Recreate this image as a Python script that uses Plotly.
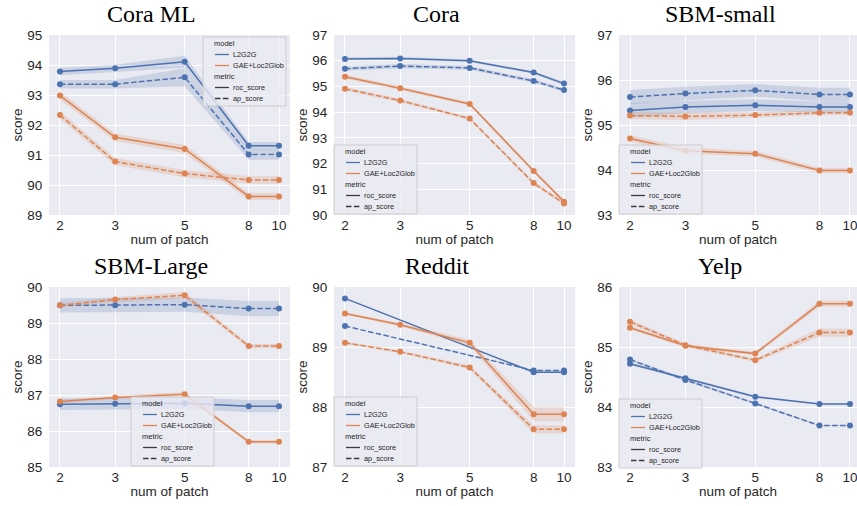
import plotly.graph_objects as go

# ---------------- data ----------------
patches = [2, 3, 5, 8, 10]
tick_labels = ["2", "3", "5", "8", "10"]
titles = ["Cora ML", "Cora", "SBM-small", "SBM-Large", "Reddit", "Yelp"]
models = ["L2G2G", "GAE+Loc2Glob"]
metrics = ["roc_score", "ap_score"]

# Cora ML
coraml_l2g2g_roc = [93.78, 93.89, 94.11, 91.31, 91.31]
coraml_l2g2g_ap = [93.36, 93.36, 93.59, 91.02, 91.02]
coraml_gae_roc = [92.98, 91.59, 91.20, 89.62, 89.62]
coraml_gae_ap = [92.33, 90.78, 90.38, 90.17, 90.17]
coraml_l2g2g_roc_ci = [0.12, 0.12, 0.20, 0.12, 0.12]
coraml_l2g2g_ap_ci = [0.14, 0.14, 0.30, 0.18, 0.18]
coraml_gae_roc_ci = [0.14, 0.12, 0.14, 0.12, 0.12]
coraml_gae_ap_ci = [0.14, 0.12, 0.12, 0.13, 0.13]

# Cora
cora_l2g2g_roc = [96.07, 96.09, 96.00, 95.54, 95.11]
cora_l2g2g_ap = [95.69, 95.79, 95.72, 95.21, 94.86]
cora_gae_roc = [95.38, 94.93, 94.32, 91.71, 90.52]
cora_gae_ap = [94.91, 94.45, 93.75, 91.24, 90.45]
cora_l2g2g_roc_ci = [0.06, 0.06, 0.05, 0.05, 0.06]
cora_l2g2g_ap_ci = [0.08, 0.08, 0.07, 0.07, 0.07]
cora_gae_roc_ci = [0.08, 0.07, 0.06, 0.07, 0.07]
cora_gae_ap_ci = [0.08, 0.07, 0.06, 0.07, 0.07]

# SBM-small
sbms_l2g2g_roc = [95.32, 95.40, 95.44, 95.40, 95.40]
sbms_l2g2g_ap = [95.62, 95.70, 95.77, 95.68, 95.68]
sbms_gae_roc = [94.70, 94.43, 94.36, 93.99, 93.99]
sbms_gae_ap = [95.21, 95.19, 95.22, 95.27, 95.27]
sbms_l2g2g_roc_ci = [0.16, 0.14, 0.13, 0.12, 0.12]
sbms_l2g2g_ap_ci = [0.16, 0.15, 0.14, 0.15, 0.15]
sbms_gae_roc_ci = [0.07, 0.07, 0.06, 0.06, 0.06]
sbms_gae_ap_ci = [0.08, 0.08, 0.06, 0.05, 0.05]

# SBM-Large
sbml_l2g2g_roc = [86.74, 86.76, 86.77, 86.69, 86.69]
sbml_l2g2g_ap = [89.49, 89.49, 89.51, 89.40, 89.40]
sbml_gae_roc = [86.82, 86.93, 87.02, 85.70, 85.70]
sbml_gae_ap = [89.49, 89.65, 89.77, 88.36, 88.36]
sbml_l2g2g_roc_ci = [0.16, 0.16, 0.16, 0.17, 0.17]
sbml_l2g2g_ap_ci = [0.20, 0.20, 0.20, 0.21, 0.21]
sbml_gae_roc_ci = [0.05, 0.05, 0.06, 0.05, 0.05]
sbml_gae_ap_ci = [0.06, 0.07, 0.09, 0.06, 0.06]

# Reddit (L2G2G has no runs at 3 and 5 patches)
reddit_l2g2g_roc = [89.81, None, None, 88.58, 88.58]
reddit_l2g2g_ap = [89.35, None, None, 88.61, 88.61]
reddit_gae_roc = [89.56, 89.37, 89.07, 87.88, 87.88]
reddit_gae_ap = [89.07, 88.92, 88.66, 87.63, 87.63]
reddit_l2g2g_roc_ci = [0.0, None, None, 0.01, 0.01]
reddit_l2g2g_ap_ci = [0.0, None, None, 0.01, 0.01]
reddit_gae_roc_ci = [0.02, 0.03, 0.05, 0.12, 0.12]
reddit_gae_ap_ci = [0.02, 0.02, 0.03, 0.07, 0.07]

# Yelp
yelp_l2g2g_roc = [84.72, 84.48, 84.17, 84.05, 84.05]
yelp_l2g2g_ap = [84.79, 84.45, 84.06, 83.69, 83.69]
yelp_gae_roc = [85.32, 85.02, 84.89, 85.72, 85.72]
yelp_gae_ap = [85.42, 85.03, 84.78, 85.24, 85.24]
yelp_l2g2g_roc_ci = [0.02, 0.02, 0.02, 0.01, 0.01]
yelp_l2g2g_ap_ci = [0.02, 0.02, 0.02, 0.01, 0.01]
yelp_gae_roc_ci = [0.03, 0.03, 0.03, 0.05, 0.05]
yelp_gae_ap_ci = [0.04, 0.03, 0.03, 0.07, 0.07]

y_ranges = [[89, 95], [90, 97], [93, 97], [85, 90], [87, 90], [83, 86]]

panels = [
    [(coraml_l2g2g_roc, coraml_l2g2g_roc_ci), (coraml_l2g2g_ap, coraml_l2g2g_ap_ci),
     (coraml_gae_roc, coraml_gae_roc_ci), (coraml_gae_ap, coraml_gae_ap_ci)],
    [(cora_l2g2g_roc, cora_l2g2g_roc_ci), (cora_l2g2g_ap, cora_l2g2g_ap_ci),
     (cora_gae_roc, cora_gae_roc_ci), (cora_gae_ap, cora_gae_ap_ci)],
    [(sbms_l2g2g_roc, sbms_l2g2g_roc_ci), (sbms_l2g2g_ap, sbms_l2g2g_ap_ci),
     (sbms_gae_roc, sbms_gae_roc_ci), (sbms_gae_ap, sbms_gae_ap_ci)],
    [(sbml_l2g2g_roc, sbml_l2g2g_roc_ci), (sbml_l2g2g_ap, sbml_l2g2g_ap_ci),
     (sbml_gae_roc, sbml_gae_roc_ci), (sbml_gae_ap, sbml_gae_ap_ci)],
    [(reddit_l2g2g_roc, reddit_l2g2g_roc_ci), (reddit_l2g2g_ap, reddit_l2g2g_ap_ci),
     (reddit_gae_roc, reddit_gae_roc_ci), (reddit_gae_ap, reddit_gae_ap_ci)],
    [(yelp_l2g2g_roc, yelp_l2g2g_roc_ci), (yelp_l2g2g_ap, yelp_l2g2g_ap_ci),
     (yelp_gae_roc, yelp_gae_roc_ci), (yelp_gae_ap, yelp_gae_ap_ci)],
]
series_style = [("L2G2G", "solid"), ("L2G2G", "dash"),
                ("GAE+Loc2Glob", "solid"), ("GAE+Loc2Glob", "dash")]

# ---------------- styling ----------------
W, H = 857, 506
BLUE = "#4C72B0"
ORANGE = "#DD8452"
BAND = {"L2G2G": "rgba(76,114,176,0.2)", "GAE+Loc2Glob": "rgba(221,132,82,0.2)"}
COLOR = {"L2G2G": BLUE, "GAE+Loc2Glob": ORANGE}
TXT = "#262626"
DASH = "5.5px,2.4px"
SANS = "Liberation Sans, Arial, sans-serif"
SERIF = "Liberation Serif, Times New Roman, serif"

col_px = [(49, 290), (334, 575), (619, 857)]
row_px = [(35, 215), (287, 467)]
x_log_ranges = [[0.266, 1.035], [0.266, 1.035], [0.266, 1.0223]]
title_cx = [151, 437, 720]
title_cy = [14, 266]
legend_boxes = [(203, 37), (334, 145), (619, 145), (131, 397), (334, 397), (619, 399)]


def px(x):
    return x / W


def py(y):
    return 1 - y / H


fig = go.Figure()
shapes = []
annotations = []

for i in range(6):
    r, c = divmod(i, 3)
    xa = "x" if i == 0 else f"x{i+1}"
    ya = "y" if i == 0 else f"y{i+1}"
    for (vals, ci), (model, dash) in zip(panels[i], series_style):
        xs = [p for p, v in zip(patches, vals) if v is not None]
        ys = [v for v in vals if v is not None]
        cis = [e for v, e in zip(vals, ci) if v is not None]
        lo = [v - e for v, e in zip(ys, cis)]
        hi = [v + e for v, e in zip(ys, cis)]
        fig.add_trace(go.Scatter(
            x=xs + xs[::-1], y=hi + lo[::-1], fill="toself", fillcolor=BAND[model],
            line=dict(width=0), mode="lines", hoverinfo="skip", showlegend=False,
            xaxis=xa, yaxis=ya))
        fig.add_trace(go.Scatter(
            x=xs, y=ys, mode="lines+markers", name=model, showlegend=False,
            line=dict(color=COLOR[model], width=1.5, dash="solid" if dash == "solid" else DASH),
            marker=dict(color=COLOR[model], size=6),
            xaxis=xa, yaxis=ya))

    x0, x1 = col_px[c]
    y0, y1 = row_px[r]
    axis_font = dict(family=SANS, size=13.5, color=TXT)
    fig.layout[f"xaxis{'' if i == 0 else i+1}"] = dict(
        domain=[px(x0), px(x1)], anchor=ya, type="log", range=x_log_ranges[c],
        tickvals=patches, ticktext=tick_labels, showgrid=True, gridcolor="white",
        gridwidth=1, zeroline=False, showline=False, ticks="", automargin=False,
        tickfont=axis_font, ticklabeloverflow="allow",
        title=dict(text="num of patch", font=axis_font, standoff=2))
    fig.layout[f"yaxis{'' if i == 0 else i+1}"] = dict(
        domain=[py(y1), py(y0)], anchor=xa, range=y_ranges[i], dtick=1,
        showgrid=True, gridcolor="white", gridwidth=1, zeroline=False, showline=False,
        ticks="outside", ticklen=3, tickcolor="rgba(0,0,0,0)", tickfont=axis_font,
        automargin=False,
        title=dict(text="score", font=axis_font, standoff=1))

    annotations.append(dict(
        text=titles[i], x=px(title_cx[c]), y=py(title_cy[r]), xref="paper", yref="paper",
        xanchor="center", yanchor="middle", showarrow=False,
        font=dict(family=SERIF, size=24, color="black")))

    # legend (drawn as a box with line samples and text)
    bl, bt = legend_boxes[i]
    shapes.append(dict(type="rect", xref="paper", yref="paper",
                       x0=px(bl), x1=px(bl + 83), y0=py(bt), y1=py(bt + 69),
                       fillcolor="rgba(234,234,242,0.8)", line=dict(color="#CCCCCC", width=1),
                       layer="above"))
    entries = [("model", None, None), (models[0], BLUE, "solid"), (models[1], ORANGE, "solid"),
               ("metric", None, None), (metrics[0], "#3a3a3a", "solid"), (metrics[1], "#3a3a3a", DASH)]
    for k, (label, col, dsh) in enumerate(entries):
        yy = bt + 6.5 + 11 * k
        if col is None:
            annotations.append(dict(text=label, x=px(bl + 9), y=py(yy), xref="paper", yref="paper",
                                    xanchor="left", yanchor="middle", showarrow=False,
                                    font=dict(family=SANS, size=7.5, color=TXT)))
        else:
            shapes.append(dict(type="line", xref="paper", yref="paper",
                               x0=px(bl + 12), x1=px(bl + 26), y0=py(yy), y1=py(yy),
                               line=dict(color=col, width=1.3, dash=dsh), layer="above"))
            annotations.append(dict(text=label, x=px(bl + 28), y=py(yy), xref="paper", yref="paper",
                                    xanchor="left", yanchor="middle", showarrow=False,
                                    font=dict(family=SANS, size=7.3, color=TXT)))

fig.update_layout(
    width=W, height=H, margin=dict(l=0, r=0, t=0, b=0, autoexpand=False),
    paper_bgcolor="white", plot_bgcolor="#EAEAF2",
    showlegend=False, shapes=shapes, annotations=annotations,
)

fig.write_html(
    "out.html",
    config={"displayModeBar": False},
    post_script="document.body.style.margin='0';document.documentElement.style.overflow='hidden';",
)
